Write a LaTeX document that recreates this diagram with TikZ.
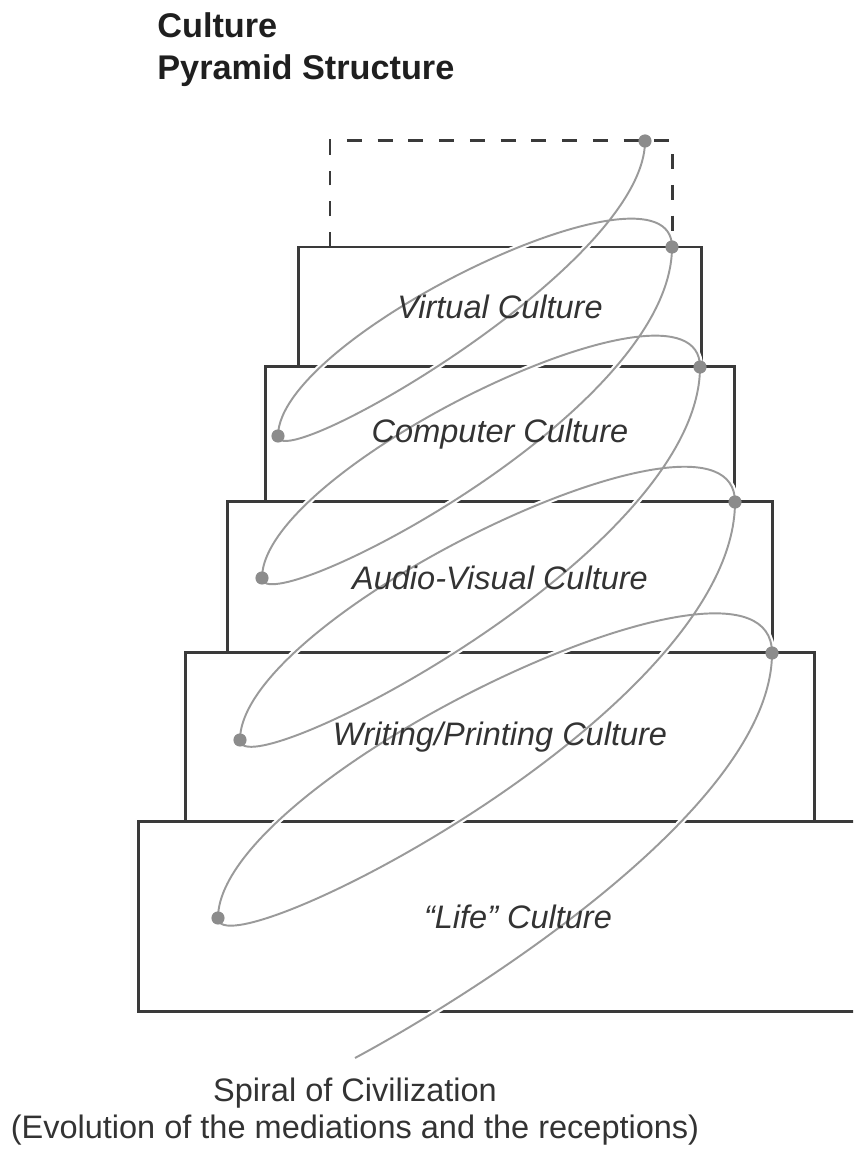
\documentclass[tikz,border=0pt]{standalone}
\usepackage{fontspec}
\setmainfont{Liberation Sans}
\usepackage{tikz}
\usetikzlibrary{positioning}

\definecolor{boxgray}{HTML}{3A3A3A}
\definecolor{spiralgray}{HTML}{9A9A9A}
\definecolor{dotgray}{HTML}{8C8C8C}
\definecolor{textgray}{HTML}{333333}

\begin{document}
\begin{tikzpicture}[x=0.02cm,y=0.02cm]
        \tikzstyle{layer}=[draw=boxgray,line width=1.7pt,rectangle,inner sep=0pt,outer sep=0pt]
        \tikzstyle{tag}=[font=\fontsize{18.5}{22}\selectfont\itshape,text=textgray]
        \tikzstyle{title}=[font=\fontsize{19.5}{23}\selectfont\bfseries,text=black!88,inner sep=0pt]
        \tikzstyle{caption}=[font=\fontsize{18.5}{21}\selectfont,text=textgray,align=center]
        \tikzstyle{future}=[draw=boxgray,line width=1.7pt,dash pattern=on 8.5pt off 9pt]
        \tikzstyle{spiral}=[draw=spiralgray,line width=1.1pt,
            preaction={draw=white,line width=3.5pt}]
        \tikzstyle{dot}=[circle,fill=dotgray,minimum size=7.5pt,inner sep=0pt]
            \clip (0,0) rectangle (853,1149);

            \node[title,anchor=base west] (title) at (157,1111) {Culture};
            \node[title,anchor=base west] (subtitle) at (157,1069) {Pyramid Structure};

            \node[layer,minimum width=8.08cm,minimum height=2.4cm] (virtual) at (500,842) {};
            \node[layer,minimum width=9.4cm,minimum height=2.7cm,below=0pt of virtual] (computer) {};
            \node[layer,minimum width=10.92cm,minimum height=3.02cm,below=0pt of computer] (audio) {};
            \node[layer,minimum width=12.6cm,minimum height=3.38cm,below=0pt of audio] (writing) {};
            \node[layer,minimum width=15.2cm,minimum height=3.8cm,below=0pt of writing,xshift=0.36cm] (life) {};

            \draw[future] (330,902) |- (672,1008) -- (672,902);

            \coordinate (r0) at (645,1008);
            \coordinate (l1) at (278,713);
            \coordinate (r1) at (672,902);
            \coordinate (l2) at (262,571);
            \coordinate (r2) at (700,782);
            \coordinate (l3) at (240,409);
            \coordinate (r3) at (735,647);
            \coordinate (l4) at (218,231);
            \coordinate (r4) at (772,496);
            \coordinate (tail) at (355,91);

            \draw[spiral] (r0) .. controls +(0,-125) and +(0,-40) .. (l1)
                .. controls +(0,100) and +(0,100) .. (r1)
                .. controls +(0,-168) and +(0,-45) .. (l2)
                .. controls +(0,111) and +(0,111) .. (r2)
                .. controls +(0,-188) and +(0,-50) .. (l3)
                .. controls +(0,125) and +(0,125) .. (r3)
                .. controls +(0,-211) and +(0,-56) .. (l4)
                .. controls +(0,140) and +(0,140) .. (r4)
                .. controls +(0,-150) and +(130,70) .. (tail);

            \foreach \p in {r0,r1,r2,r3,r4,l1,l2,l3,l4}
                \node[dot] (dot\p) at (\p) {};

            \node[tag] (virtualtag) at (virtual) {Virtual Culture};
            \node[tag] (computertag) at (computer) {Computer Culture};
            \node[tag] (audiotag) at (audio) {Audio-Visual Culture};
            \node[tag] (writingtag) at (writing) {Writing/Printing Culture};
            \node[tag] (lifetag) at (life) {``Life'' Culture};

            \node[caption] (civ) at (355,37) {Spiral of Civilization\\(Evolution of the mediations and the receptions)};
        \end{tikzpicture}
\end{document}
